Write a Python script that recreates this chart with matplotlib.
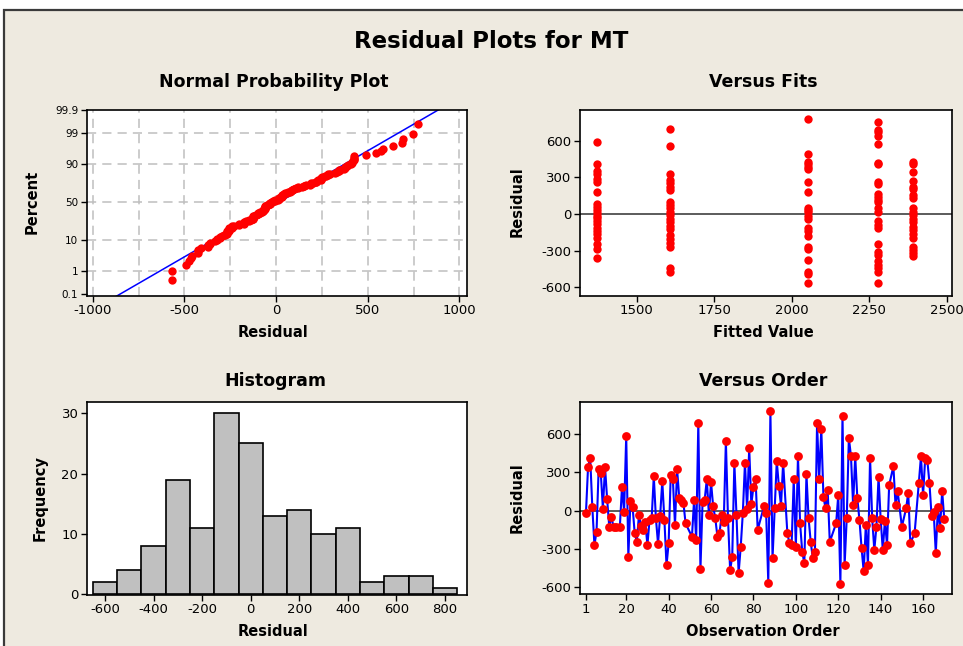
import matplotlib
matplotlib.use("Agg")
import matplotlib.pyplot as plt
from matplotlib.patches import Rectangle
from statistics import NormalDist
import numpy as np

plt.rcParams['font.family'] = ['DejaVu Sans']
plt.rcParams['axes.unicode_minus'] = False

# ---------------- data ----------------
# residuals in observation order (observation number, residual)
obs_no = [1, 2, 3, 4, 5, 6, 7, 8, 9, 10, 11, 12, 13, 14, 15, 17, 18, 19, 20, 21,
          22, 23, 24, 25, 26, 27, 28, 29, 30, 31, 32, 33, 34, 35, 36, 37, 38, 39, 40, 41,
          42, 43, 44, 45, 46, 47, 48, 51, 52, 53, 54, 55, 56, 57, 58, 59, 60, 61, 62, 63,
          64, 65, 66, 67, 68, 69, 70, 71, 72, 73, 74, 75, 76, 77, 78, 79, 80, 81, 82, 85,
          86, 87, 88, 89, 90, 91, 92, 93, 94, 96, 97, 98, 99, 100, 101, 102, 103, 104, 105, 106,
          107, 108, 109, 110, 111, 112, 113, 114, 115, 116, 119, 120, 121, 122, 123, 124, 125, 126, 127, 128,
          129, 130, 131, 132, 133, 134, 135, 136, 137, 138, 139, 140, 141, 142, 143, 144, 146, 147, 148, 150,
          152, 153, 154, 156, 158, 159, 160, 161, 162, 163, 164, 165, 166, 167, 168, 169, 170]
residual = [-21, 343, 416, 31, -268, -164, 330, 296, 16, 343, 88, -125, -47, -125, -125, -125, 187, -8, 585, -359,
            75, 31, -177, -242, -34, -120, -150, -90, -270, -70, -60, 270, -60, -258, -40, 231, -70, -428, -255, 283,
            245, -111, 323, 100, 82, 58, -100, -203, 84, -229, 690, -458, 66, 85, 245, -32, 223, 33, -57, -202,
            -176, -32, -85, 545, -60, -465, -360, 373, -34, -490, -282, -15, 375, 10, 488, 50, 188, 248, -148, 35,
            -21, -565, 777, -372, 18, 388, 192, 40, 375, -177, -256, -268, 245, -281, 427, -99, -320, -411, 285, -58,
            -242, -372, -320, 685, 248, 640, 110, 18, 161, -243, -99, 122, -570, 745, -424, -60, 570, 426, 44, 426,
            96, -73, -294, -475, -112, -424, 413, -60, -307, -125, 265, -68, -307, -78, -268, 200, 348, 44, 153, -125,
            18, 140, -255, -177, 218, 426, 122, 410, 395, 218, -42, -8, -333, 26, -138, 153, -68]

# residuals grouped by fitted value
fitted_levels = [1373, 1606, 2051, 2277, 2392]
fit_res_1 = [586, 406, 352, 327, 284, 259, 183, 82, 55, 33, 11, -14, -35, -57, -85, -112, -136, -166,
             -194, -248, -286, -363]
fit_res_2 = [695, 559, 327, 278, 251, 224, 196, 95, 74, 46, 19, -8, -41, -68, -95, -123, -172, -205,
             -240, -267, -445, -472]
fit_res_3 = [777, 488, 428, 406, 387, 368, 259, 183, 52, 33, 14, -14, -41, -112, -139, -177, -267,
             -286, -376, -472, -491, -567]
fit_res_4 = [750, 687, 668, 641, 570, 414, 406, 265, 243, 161, 142, 115, 95, 46, 19, -57, -90, -112,
             -248, -308, -335, -385, -417, -445, -472, -567]
fit_res_5 = [428, 406, 341, 270, 224, 204, 155, 128, 46, 19, -8, -41, -68, -104, -131, -166, -194,
             -267, -295, -322, -341]

# histogram of residuals
bin_centers = [-600, -500, -400, -300, -200, -100, 0, 100, 200, 300, 400, 500, 600, 700, 800]
bin_counts = [2, 4, 8, 19, 11, 30, 25, 13, 14, 10, 11, 2, 3, 3, 1]

pct_ticks = [0.1, 1, 10, 50, 90, 99, 99.9]
pct_labels = ['0.1', '1', '10', '50', '90', '99', '99.9']

# ---------------- style ----------------
BG = '#EEEAE0'
RED = '#FF0000'
BLUE = '#0000FF'
W, H = 963, 646

fig = plt.figure(figsize=(W / 100, H / 100), dpi=100)
fig.patch.set_facecolor('white')
frame = Rectangle((4 / W, -0.1), 1.2, (H - 10) / H + 0.1, transform=fig.transFigure,
                  facecolor=BG, edgecolor='#3a3a3a', lw=1.6, zorder=-10)
fig.patches.append(frame)


def axes_px(left, top, right, bottom):
    ax = fig.add_axes([left / W, 1 - bottom / H, (right - left) / W, (bottom - top) / H])
    ax.set_zorder(5)
    ax.set_facecolor('white')
    for s in ax.spines.values():
        s.set_color('black')
        s.set_linewidth(1.2)
    ax.tick_params(direction='out', length=4, width=1, labelsize=9.5, colors='black', pad=2)
    ax.tick_params(top=False, right=False)
    return ax


def text_px(x, y, s, **kw):
    fig.text(x / W, 1 - y / H, s, ha='center', va='center', **kw)


text_px(491, 41, 'Residual Plots for MT', fontsize=16.5, fontweight='bold')

# ---------------- normal probability plot ----------------
nd = NormalDist()
ax1 = axes_px(86.7, 110, 466.7, 296)
r_sorted = np.sort(np.array(residual, dtype=float))
n = len(r_sorted)
ranks = (np.arange(1, n + 1) - 0.3) / (n + 0.4)
zq = np.array([nd.inv_cdf(p) for p in ranks])
mu, sd = r_sorted.mean(), r_sorted.std(ddof=1)
z_lo, z_hi = nd.inv_cdf(0.001) - 0.06, nd.inv_cdf(0.999)
ax1.set_xlim(-1033, 1040)
ax1.set_ylim(z_lo, z_hi)
for gx in np.arange(-1000, 1001, 250):
    ax1.axvline(gx, color='#BEBEBE', lw=1.1, dashes=(6, 4), zorder=1)
for p in pct_ticks[1:-1]:
    ax1.axhline(nd.inv_cdf(p / 100), color='#BEBEBE', lw=1.1, dashes=(6, 4), zorder=1)
xl = np.array([-1100, 1100])
ax1.plot(xl, (xl - mu) / sd, color=BLUE, lw=1.1, zorder=2)
ax1.scatter(r_sorted, zq, s=36, color=RED, linewidths=0, zorder=3)
ax1.set_xticks([-1000, -500, 0, 500, 1000])
ax1.set_yticks([nd.inv_cdf(p / 100) for p in pct_ticks])
ax1.set_yticklabels(pct_labels)
ax1.tick_params(axis='y', labelsize=7.5)
text_px(274, 82, 'Normal Probability Plot', fontsize=12.5, fontweight='bold')
text_px(273, 332, 'Residual', fontsize=10.5, fontweight='bold')
text_px(32, 202, 'Percent', fontsize=10.5, fontweight='bold', rotation=90)

# ---------------- versus fits ----------------
ax2 = axes_px(580, 110, 951.7, 295.7)
ax2.set_xlim(1317, 2516)
ax2.set_ylim(-668, 851)
ax2.axhline(0, color='#404040', lw=1.2, zorder=1)
for lvl, vals in zip(fitted_levels, [fit_res_1, fit_res_2, fit_res_3, fit_res_4, fit_res_5]):
    ax2.scatter([lvl] * len(vals), vals, s=36, color=RED, linewidths=0, zorder=3)
ax2.set_xticks([1500, 1750, 2000, 2250, 2500])
ax2.set_yticks([-600, -300, 0, 300, 600])
text_px(763, 82, 'Versus Fits', fontsize=12.5, fontweight='bold')
text_px(763, 332, 'Fitted Value', fontsize=10.5, fontweight='bold')
text_px(517, 202, 'Residual', fontsize=10.5, fontweight='bold', rotation=90)

# ---------------- histogram ----------------
ax3 = axes_px(86.7, 402, 466.7, 595)
ax3.bar(bin_centers, bin_counts, width=100, color='#C0C0C0', edgecolor='black', linewidth=1.2, zorder=2)
ax3.set_xlim(-675, 889)
ax3.set_ylim(-0.2, 31.9)
ax3.set_xticks([-600, -400, -200, 0, 200, 400, 600, 800])
ax3.set_yticks([0, 10, 20, 30])
text_px(275, 381, 'Histogram', fontsize=12.5, fontweight='bold')
text_px(273, 632, 'Residual', fontsize=10.5, fontweight='bold')
text_px(40, 498, 'Frequency', fontsize=10.5, fontweight='bold', rotation=90)

# ---------------- versus order ----------------
ax4 = axes_px(580, 401.7, 951.7, 594.3)
ax4.set_xlim(-1.8, 173.5)
ax4.set_ylim(-654, 853)
ax4.axhline(0, color='#404040', lw=1.2, zorder=1)
ax4.plot(obs_no, residual, color=BLUE, lw=1.5, zorder=2)
ax4.scatter(obs_no, residual, s=40, color=RED, linewidths=0, zorder=3)
ax4.set_xticks([1, 20, 40, 60, 80, 100, 120, 140, 160])
ax4.set_yticks([-600, -300, 0, 300, 600])
text_px(763, 381, 'Versus Order', fontsize=12.5, fontweight='bold')
text_px(763, 632, 'Observation Order', fontsize=10.5, fontweight='bold')
text_px(517, 498, 'Residual', fontsize=10.5, fontweight='bold', rotation=90)

fig.savefig('out.png', dpi=100, facecolor=fig.get_facecolor())
